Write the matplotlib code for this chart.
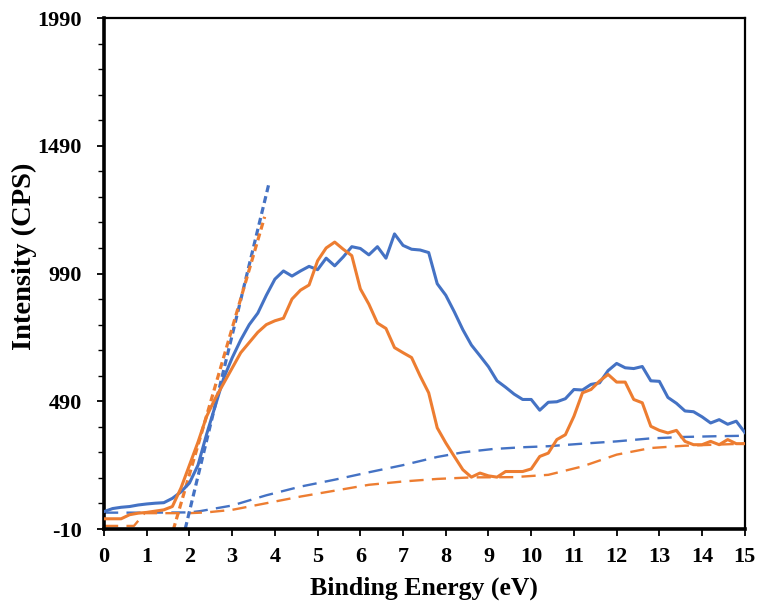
import numpy as np
import matplotlib.pyplot as plt

# measured spectra (binding energy step 0.2 eV)
energy = [round(0.2 * i, 1) for i in range(76)]
blue = [58, 70, 75, 78, 84, 88, 91, 93, 110, 135,
        170, 240, 360, 470, 580, 660, 730, 790, 835, 905,
        968, 1000, 980, 1000, 1018, 1005, 1050, 1020, 1055, 1095,
        1088, 1063, 1095, 1050, 1145, 1100, 1085, 1082, 1072, 950,
        905, 840, 770, 710, 668, 625, 570, 545, 518, 497,
        497, 455, 486, 488, 500, 536, 534, 556, 562, 610,
        638, 621, 618, 626, 570, 568, 505, 482, 452, 449,
        429, 405, 418, 400, 412, 368]
orange = [30, 30, 30, 46, 52, 55, 60, 65, 78, 150,
          240, 330, 430, 500, 560, 620, 680, 720, 760, 790,
          805, 815, 890, 925, 945, 1040, 1090, 1113, 1085, 1060,
          930, 870, 796, 775, 700, 680, 661, 589, 523, 386,
          327, 274, 222, 193, 209, 198, 193, 215, 215, 215,
          225, 274, 287, 340, 359, 431, 523, 536, 569, 595,
          565, 565, 497, 484, 392, 376, 366, 376, 333, 320,
          320, 333, 320, 340, 324, 324]

# background curves
bg_x_blue = [0, 1, 2, 2.25, 3.0, 3.8, 4.6, 5.4, 6.2, 7.0, 7.8, 8.4, 9.1, 9.8, 10.4, 11.2, 12.0, 12.75, 13.5, 14.3, 15]
bg_blue = [54, 54, 55, 60, 82, 122, 156, 183, 212, 240, 272, 290, 303, 310, 314, 324, 333, 344, 350, 353, 355]
bg_x_orange = [0, 0.7, 0.95, 1.2, 2.0, 2.4, 3.0, 3.8, 4.6, 5.4, 6.2, 7.0, 7.8, 8.6, 9.6, 10.4, 11.2, 12.0, 12.8, 13.6, 14.3, 15]
bg_orange = [2, 2, 52, 52, 52, 55, 65, 91, 117, 140, 163, 176, 186, 192, 193, 202, 235, 281, 307, 316, 320, 324]

# leading edge linear fits
fit_x_blue = [1.9, 3.87]
fit_blue = [-10, 1349]
fit_x_orange = [1.62, 3.76]
fit_orange = [-14, 1212]

c_blue = '#4472C4'
c_orange = '#ED7D31'

plt.rcParams['font.family'] = ['Liberation Serif', 'DejaVu Serif']
plt.rcParams['font.weight'] = 'bold'
plt.rcParams['axes.unicode_minus'] = False

fig = plt.figure(figsize=(7.61, 6.07), dpi=100)
ax = fig.add_axes([0.1367, 0.1285, 0.842, 0.8418])

ax.plot(energy, blue, color=c_blue, lw=2.2, zorder=3)
ax.plot(energy, orange, color=c_orange, lw=2.2, zorder=3)
ax.plot(bg_x_blue, bg_blue, color=c_blue, lw=1.7, dashes=(6, 3.5))
ax.plot(bg_x_orange, bg_orange, color=c_orange, lw=1.7, dashes=(6, 3.5))
ax.plot(fit_x_blue, fit_blue, color=c_blue, lw=2.3, dashes=(2.2, 1.3))
ax.plot(fit_x_orange, fit_orange, color=c_orange, lw=2.3, dashes=(2.2, 1.3))

ax.set_xlim(0, 15)
ax.set_ylim(-10, 1990)
ax.set_xticks(range(16))
ax.set_yticks([-10, 490, 990, 1490, 1990])
ax.yaxis.set_minor_locator(plt.FixedLocator(np.arange(90, 1990, 100)))

for s in ['left', 'bottom']:
    ax.spines[s].set_linewidth(2.6)
for s in ['top', 'right']:
    ax.spines[s].set_linewidth(1.6)

ax.tick_params(axis='both', which='major', direction='out', length=5, width=1.3,
               labelsize=16, colors='black')
ax.tick_params(axis='x', pad=8)
ax.tick_params(axis='y', pad=11)
ax.tick_params(axis='y', which='minor', direction='out', length=4, width=1.0)
for lbl in ax.get_xticklabels() + ax.get_yticklabels():
    lbl.set_fontweight('bold')

ax.set_xlabel('Binding Energy (eV)', fontsize=18.5, fontweight='bold', labelpad=7)
ax.set_ylabel('Intensity (CPS)', fontsize=20.5, fontweight='bold')
ax.yaxis.set_label_coords(-0.104, 0.534)

fig.savefig('out.png', dpi=100)
